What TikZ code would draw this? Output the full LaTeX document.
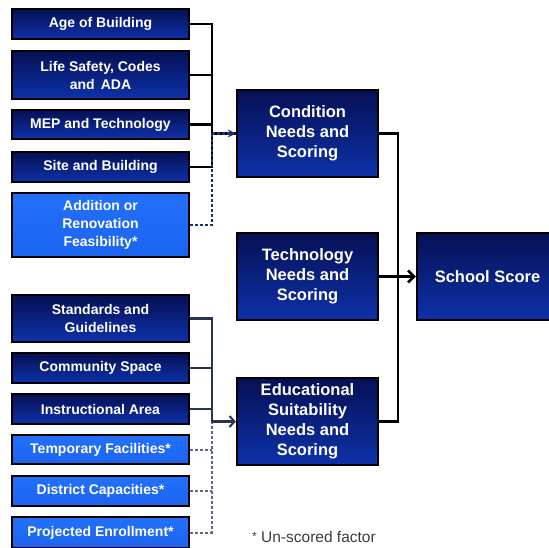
\documentclass[tikz,border=0pt]{standalone}
\usepackage{fontspec}
\setmainfont{Liberation Sans}
\usetikzlibrary{arrows.meta}
\definecolor{navytop}{RGB}{6,16,84}
\definecolor{navybot}{RGB}{14,50,170}
\definecolor{lighttop}{RGB}{34,112,250}
\definecolor{lightbot}{RGB}{28,100,240}
\definecolor{slate}{RGB}{40,52,80}
\definecolor{dashblue}{RGB}{30,50,110}
\definecolor{dashgray}{RGB}{90,105,135}
\definecolor{notegray}{RGB}{60,60,60}
\tikzset{
  darkbox/.style={draw=black, line width=2.3pt, top color=navytop, bottom color=navybot,
    text=white, align=center, inner sep=0pt},
  lightbox/.style={draw=black, line width=2.3pt, top color=lighttop, bottom color=lightbot,
    text=white, align=center, inner sep=0pt},
  smallbox/.style={minimum width=177pt, font=\bfseries\fontsize{14}{18}\selectfont},
  midbox/.style={minimum width=141pt, minimum height=87pt, font=\bfseries\fontsize{16.5}{20}\selectfont},
  conn/.style={line width=2.4pt, black},
  sconn/.style={line width=2.4pt, slate},
  dconn/.style={line width=2.2pt, dashblue, dash pattern=on 3pt off 2pt},
  gconn/.style={line width=2pt, dashgray, dash pattern=on 3pt off 2pt},
}
\begin{document}
\begin{tikzpicture}[x=1pt,y=-1pt]
\useasboundingbox (0,0) rectangle (549,548);
\clip (0,0) rectangle (549,548);
% left boxes, top group
\node[darkbox,smallbox,minimum height=30pt] (age) at (100.5,24) {Age of Building};
\node[darkbox,smallbox,minimum height=48pt] (life) at (100.5,75) {Life Safety, Codes\\and\, ADA};
\node[darkbox,smallbox,minimum height=29pt] (mep) at (100.5,124.5) {MEP and Technology};
\node[darkbox,smallbox,minimum height=30pt] (site) at (100.5,167) {Site and Building};
\node[lightbox,smallbox,minimum height=64pt] (add) at (100.5,225) {Addition or\\Renovation\\Feasibility*};
% left boxes, bottom group
\node[darkbox,smallbox,minimum height=47pt] (std) at (100.5,318.5) {Standards and\\Guidelines};
\node[darkbox,smallbox,minimum height=30pt] (com) at (100.5,368) {Community Space};
\node[darkbox,smallbox,minimum height=30pt] (ins) at (100.5,409) {Instructional Area};
\node[lightbox,smallbox,minimum height=29pt] (tmp) at (100.5,449.5) {Temporary Facilities*};
\node[lightbox,smallbox,minimum height=30pt] (dis) at (100.5,491) {District Capacities*};
\node[lightbox,smallbox,minimum height=31pt] (pro) at (100.5,532.5) {Projected Enrollment*};
% middle boxes
\node[darkbox,midbox] (cond) at (307.5,133.5) {Condition\\Needs and\\Scoring};
\node[darkbox,midbox] (tech) at (307.5,276.5) {Technology\\Needs and\\Scoring};
\node[darkbox,midbox] (edu) at (307.5,421.5) {Educational\\Suitability\\Needs and\\Scoring};
% result box
\node[darkbox,midbox] (school) at (487.5,276.5) {School Score};
% note
\node[anchor=west, text=notegray, font=\fontsize{15.5}{17}\selectfont, inner sep=0pt] (note) at (252,537) {{\raisebox{0.3ex}{\fontsize{12}{12}\selectfont*}} Un-scored factor};
% bus coordinates
\coordinate (busL) at (212,0);
\coordinate (busR) at (398,0);
% top group connectors
\draw[conn] (age.east) -- (age.east -| busL) -- (site.east -| busL) -- (site.east);
\draw[conn] (life.east) -- (life.east -| busL);
\draw[conn] (mep.east) -- (mep.east -| busL);
\draw[conn] (cond.west -| busL) -- (cond.west);
\draw[dconn] (add.east) -- (add.east -| busL) -- (cond.west -| busL);
\draw[dconn, -{Stealth[length=8pt,width=8pt]}] (cond.west -| busL) -- (cond.west);
% bottom group connectors
\draw[gconn] (tmp.east) -- (tmp.east -| busL);
\draw[gconn] (dis.east) -- (dis.east -| busL);
\draw[gconn] (pro.east) -- (pro.east -| busL) -- (edu.west -| busL);
\draw[sconn] (std.east) -- (std.east -| busL) -- (edu.west -| busL);
\draw[sconn] (com.east) -- (com.east -| busL);
\draw[sconn] (ins.east) -- (ins.east -| busL);
\draw[sconn, -{Straight Barb[length=5pt,width=11pt,line width=2pt]}] (edu.west -| busL) -- (edu.west);
% right connectors
\draw[conn] (cond.east) -- (cond.east -| busR) -- (edu.east -| busR) -- (edu.east);
\draw[conn, line width=2.6pt, -{Straight Barb[length=6pt,width=12pt,line width=2.6pt]}] (tech.east) -- (school.west);
\end{tikzpicture}
\end{document}
